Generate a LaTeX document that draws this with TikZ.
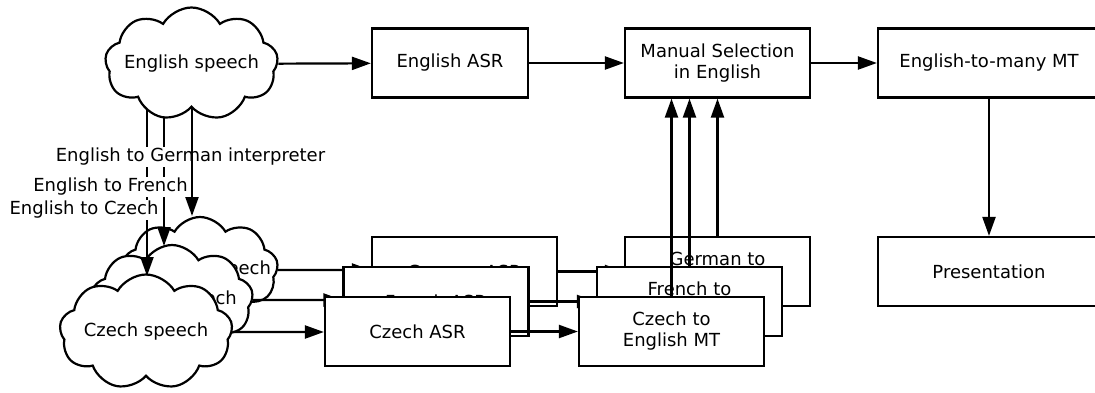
\documentclass[tikz,border=0pt]{standalone}
\usepackage{fontspec}
\setmainfont{DejaVu Sans}
\usetikzlibrary{shapes.symbols,arrows.meta,calc}
\newcommand{\zw}[1]{\makebox[0pt]{#1}}
\begin{document}
\begin{tikzpicture}[x=1pt,y=-1pt,
 every node/.style={font=\fontsize{18}{21}\selectfont},
 box/.style={draw,line width=2.2pt,fill=white,minimum width=185pt,minimum height=69pt,inner sep=0pt,align=center},
 cl/.style={cloud,cloud puffs=9,cloud puff arc=120,cloud ignores aspect,draw,line width=2.2pt,fill=white,inner sep=0pt,minimum width=156pt,minimum height=106pt},
 arr/.style={line width=2.2pt,-{Triangle[length=19pt,width=13pt]}},
 lbl/.style={fill=white,inner sep=1pt}]
\useasboundingbox (0,0) rectangle (1095,392);
\coordinate (espc) at (191.5,64);
% top row
\node[box,minimum width=156pt] (easr) at (450,63) {English ASR};
\node[box] (man) at (717.5,63) {Manual Selection\\in English};
\node[box,minimum width=222pt] (emt) at (989,63) {English-to-many MT};
\node[box,minimum width=222pt] (pres) at (989,271.5) {Presentation};
\draw[arr] (easr) -- (man);
\draw[arr] (man) -- (emt);
\draw[arr] (emt) -- (pres);
% speech clouds
\node[cl] (gsp) at (200,270) {\zw{German speech}};
\node[cl,minimum width=162pt,minimum height=110pt] (fsp) at (172,300) {\zw{French speech}};
\node[cl,minimum width=173pt,minimum height=115pt] (csp) at (146,332) {\zw{Czech speech}};
% ASR boxes
\node[box] (gasr) at (464.5,271.5) {German ASR};
\draw[arr] (gsp) -- (gsp -| gasr.west);
\node[box] (fasr) at (436,301.5) {French ASR};
\draw[arr] (fsp) -- (fsp -| fasr.west);
\node[box] (casr) at (417.5,331.5) {Czech ASR};
\draw[arr] (csp) -- (csp -| casr.west);
% MT boxes
\node[box] (gmt) at (717.5,271.5) {German to\\English MT};
\draw[arr] (gasr) -- (gmt);
\node[box] (fmt) at (689.5,301.5) {French to\\English MT};
\draw[arr] (fasr) -- (fmt);
\node[box] (cmt) at (671.5,331.5) {Czech to\\English MT};
\draw[arr] (casr) -- (cmt);
% MT to manual selection
\draw[arr] (cmt.north) -- (cmt.north |- man.south);
\draw[arr] (fmt.north) -- (fmt.north |- man.south);
\draw[arr] (gmt.north) -- (gmt.north |- man.south);
% interpreters
\coordinate (ctop) at (147,276);
\coordinate (ftop) at (164,246);
\coordinate (gtop) at (192,216);
\draw[arr] (espc -| ctop) -- (ctop);
\draw[arr] (espc -| ftop) -- (ftop);
\node[lbl] (l1) at (190.5,157) {English to German interpreter};
\node[lbl] (l2) at (110.5,187) {English to French};
\node[lbl] (l3) at (84,210) {English to Czech};
\draw[arr] (espc -| gtop) -- (gtop);
% English speech
\node[cl,minimum width=173pt,minimum height=113pt] (esp) at (espc) {\zw{English speech}};
\draw[arr] (esp) -- (easr);
\end{tikzpicture}
\end{document}
